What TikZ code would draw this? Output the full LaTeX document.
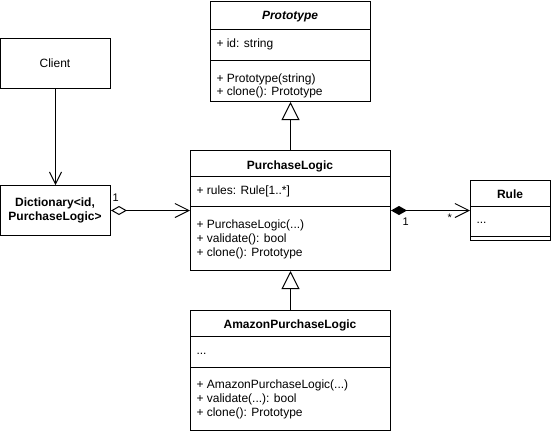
\documentclass[tikz,border=0pt]{standalone}
\usepackage{fontspec}
\setmainfont{Liberation Sans}
\usetikzlibrary{arrows.meta}
\begin{document}
\begin{tikzpicture}[x=1pt,y=-1pt,line width=1pt,
  font=\fontsize{12}{14}\selectfont,
  classbox/.style={draw,fill=white,anchor=north west,inner sep=0pt},
  txt/.style={anchor=base west,inner sep=0pt},
  ttl/.style={anchor=base,inner sep=0pt,font=\fontsize{12}{14}\selectfont\bfseries},
  lbl/.style={inner sep=0pt,font=\fontsize{11}{13}\selectfont},
  openv/.style={-{Straight Barb[length=12pt,width=12pt,line width=1pt]}},
  gen/.style={-{Triangle[open,length=18pt,width=18pt,line width=1pt,fill=white]}}
]
\useasboundingbox (0,0) rectangle (551,434);

% Prototype
\node[classbox,minimum width=160pt,minimum height=100pt] (proto) at (210,1) {};
\draw (210,29) -- (370,29);
\draw (210,60) -- (370,60);
\node[ttl,font=\fontsize{12}{14}\selectfont\bfseries\itshape] (protoT) at (290,19) {Prototype};
\node[txt] (protoA) at (216,47) {+ id: string};
\node[txt] (protoM1) at (216,82) {+ Prototype(string)};
\node[txt] (protoM2) at (216,95) {+ clone(): Prototype};

% Client
\node[classbox,minimum width=110pt,minimum height=50pt] (client) at (0,38) {};
\node (clientT) at (55,63) {Client};

% Dictionary
\node[classbox,minimum width=110pt,minimum height=50pt] (dict) at (0,185) {};
\node[align=center,font=\fontsize{12}{14}\selectfont\bfseries,inner sep=0pt] (dictT) at (55,210) {Dictionary<id,\\PurchaseLogic>};

% PurchaseLogic
\node[classbox,minimum width=200pt,minimum height=120pt] (pl) at (190,150) {};
\draw (190,176.5) -- (390,176.5);
\draw (190,206) -- (390,206);
\node[ttl] (plT) at (290,169) {PurchaseLogic};
\node[txt] (plA) at (196,194) {+ rules: Rule[1..*]};
\node[txt] (plM1) at (196,228) {+ PurchaseLogic(...)};
\node[txt] (plM2) at (196,242) {+ validate(): bool};
\node[txt] (plM3) at (196,256.5) {+ clone(): Prototype};

% Rule
\node[classbox,minimum width=80pt,minimum height=60pt] (rule) at (470,180) {};
\draw (470,206) -- (550,206);
\draw (470,236) -- (550,236);
\node[ttl] (ruleT) at (510,198) {Rule};
\node[txt] (ruleA) at (476,223) {...};

% AmazonPurchaseLogic
\node[classbox,minimum width=200pt,minimum height=120pt] (amz) at (190,310) {};
\draw (190,336) -- (390,336);
\draw (190,367) -- (390,367);
\node[ttl] (amzT) at (290,328) {AmazonPurchaseLogic};
\node[txt] (amzA) at (196,354) {...};
\node[txt] (amzM1) at (196,388) {+ AmazonPurchaseLogic(...)};
\node[txt] (amzM2) at (196,402) {+ validate(...): bool};
\node[txt] (amzM3) at (196,416.5) {+ clone(): Prototype};

% connectors
\draw[openv] (client) -- (dict);
\draw[{Diamond[open,length=16pt,width=9pt,line width=1pt,fill=white]}-{Straight Barb[length=14pt,width=14pt,line width=1pt]}] (dict.east) -- (pl.west);
\draw[{Diamond[length=16pt,width=9pt,line width=1pt]}-{Straight Barb[length=14pt,width=14pt,line width=1pt]}] (pl.east) -- (rule.west);
\draw[gen] (pl.north) -- (proto.south);
\draw[gen] (amz.north) -- (pl.south);

\node[lbl,anchor=base west] (m1) at (112,201) {1};
\node[lbl,anchor=base west] (m2) at (402,225) {1};
\node[lbl,anchor=base west] (m3) at (447,221) {*};
\end{tikzpicture}
\end{document}
